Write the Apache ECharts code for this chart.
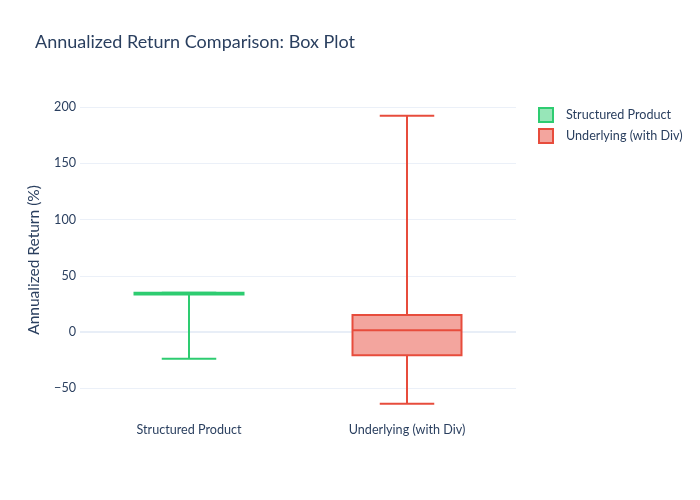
<!DOCTYPE html>
<html>
<head>
<meta charset="utf-8">
<script src="https://cdn.jsdelivr.net/npm/echarts@6/dist/echarts.min.js"></script>
<style>html,body{margin:0;padding:0;background:#fff}#c{width:700px;height:500px}</style>
</head>
<body>
<div id="c"></div>
<script>
const categories = ['Structured Product', 'Underlying (with Div)'];
const seriesNames = ['Structured Product', 'Underlying (with Div)'];
// [min, q1, median, q3, max]
const structuredStats = [-23.7, 33.4, 34.0, 34.8, 34.8];
const underlyingStats = [-63.7, -20.7, 1.5, 15.1, 192.3];
const yTicks = [-50, 0, 50, 100, 150, 200];

const lineColors = ['#2ecc71', '#e74c3c'];
const fillColors = ['#97e6b8', '#f3a59e'];
const FONT = 'Lato, "Open Sans", sans-serif';
const TXT = '#2a3f5f';

function makeRender(idx) {
  return function (params, api) {
    const x = api.value(0);
    const vmin = api.value(1), q1 = api.value(2), med = api.value(3), q3 = api.value(4), vmax = api.value(5);
    const band = api.size([1, 0])[0];
    const cx = api.coord([x, 0])[0];
    const hb = band * 0.25, hc = band * 0.125;
    const yMin = api.coord([x, vmin])[1], yQ1 = api.coord([x, q1])[1], yMed = api.coord([x, med])[1];
    const yQ3 = api.coord([x, q3])[1], yMax = api.coord([x, vmax])[1];
    const st = { stroke: lineColors[idx], lineWidth: 2, fill: null };
    return {
      type: 'group',
      children: [
        { type: 'line', shape: { x1: cx, y1: yQ3, x2: cx, y2: yMax }, style: st },
        { type: 'line', shape: { x1: cx, y1: yQ1, x2: cx, y2: yMin }, style: st },
        { type: 'line', shape: { x1: cx - hc, y1: yMax, x2: cx + hc, y2: yMax }, style: st },
        { type: 'line', shape: { x1: cx - hc, y1: yMin, x2: cx + hc, y2: yMin }, style: st },
        { type: 'rect', shape: { x: cx - hb, y: yQ3, width: hb * 2, height: yQ1 - yQ3 },
          style: { fill: fillColors[idx], stroke: lineColors[idx], lineWidth: 2 } },
        { type: 'line', shape: { x1: cx - hb, y1: yMed, x2: cx + hb, y2: yMed }, style: st }
      ]
    };
  };
}

const chart = echarts.init(document.getElementById('c'), null, { renderer: 'canvas' });
chart.setOption({
  animation: false,
  backgroundColor: '#fff',
  textStyle: { fontFamily: FONT },
  title: {
    text: 'Annualized Return Comparison: Box Plot',
    left: 35, top: 33, padding: 0,
    textStyle: { fontFamily: FONT, fontSize: 18, fontWeight: 'normal', color: TXT }
  },
  legend: {
    orient: 'vertical', left: 538, top: 107, padding: 0,
    itemWidth: 14, itemHeight: 14, itemGap: 5, icon: 'rect',
    textStyle: { fontFamily: FONT, fontSize: 12.6, color: TXT, padding: [0, 0, 0, 8] },
    data: seriesNames.map((n, i) => ({
      name: n,
      itemStyle: { color: fillColors[i], borderColor: lineColors[i], borderWidth: 2 }
    }))
  },
  grid: { left: 80, right: 184, top: 100, bottom: 80, containLabel: false },
  xAxis: {
    type: 'category', data: categories, boundaryGap: true,
    axisLine: { show: false }, axisTick: { show: false }, splitLine: { show: false },
    axisLabel: { color: TXT, fontSize: 12.6, fontFamily: FONT, margin: 3 }
  },
  yAxis: {
    type: 'value', min: -78.2, max: 206.2, splitNumber: 5,
    name: 'Annualized Return (%)', nameLocation: 'middle', nameGap: 38,
    nameTextStyle: { color: TXT, fontSize: 15.5, fontFamily: FONT },
    axisLine: { show: false }, axisTick: { show: false },
    splitLine: { show: true, showMinLine: false, showMaxLine: false, lineStyle: { color: '#ebf0f8', width: 1 } },
    axisLabel: {
      color: TXT, fontSize: 12.6, fontFamily: FONT, margin: 4,
      showMinLabel: false, showMaxLabel: false,
      formatter: v => (yTicks.indexOf(v) < 0 ? '' : (v < 0 ? '\u2212' + Math.abs(v) : String(v)))
    }
  },
  series: [
    {
      name: '__zero', type: 'line', data: [], z: 0, silent: true,
      markLine: {
        z: 0, zlevel: 0,
        silent: true, symbol: 'none', label: { show: false },
        lineStyle: { color: '#e8eef7', width: 2, type: 'solid' },
        data: [{ yAxis: 0 }]
      }
    },
    {
      name: seriesNames[0], type: 'custom', renderItem: makeRender(0),
      itemStyle: { color: fillColors[0], borderColor: lineColors[0] },
      encode: { x: 0, y: [1, 2, 3, 4, 5] },
      data: [[0].concat(structuredStats)],
      z: 3
    },
    {
      name: seriesNames[1], type: 'custom', renderItem: makeRender(1),
      itemStyle: { color: fillColors[1], borderColor: lineColors[1] },
      encode: { x: 0, y: [1, 2, 3, 4, 5] },
      data: [[1].concat(underlyingStats)],
      z: 4
    }
  ]
});
</script>
</body>
</html>
